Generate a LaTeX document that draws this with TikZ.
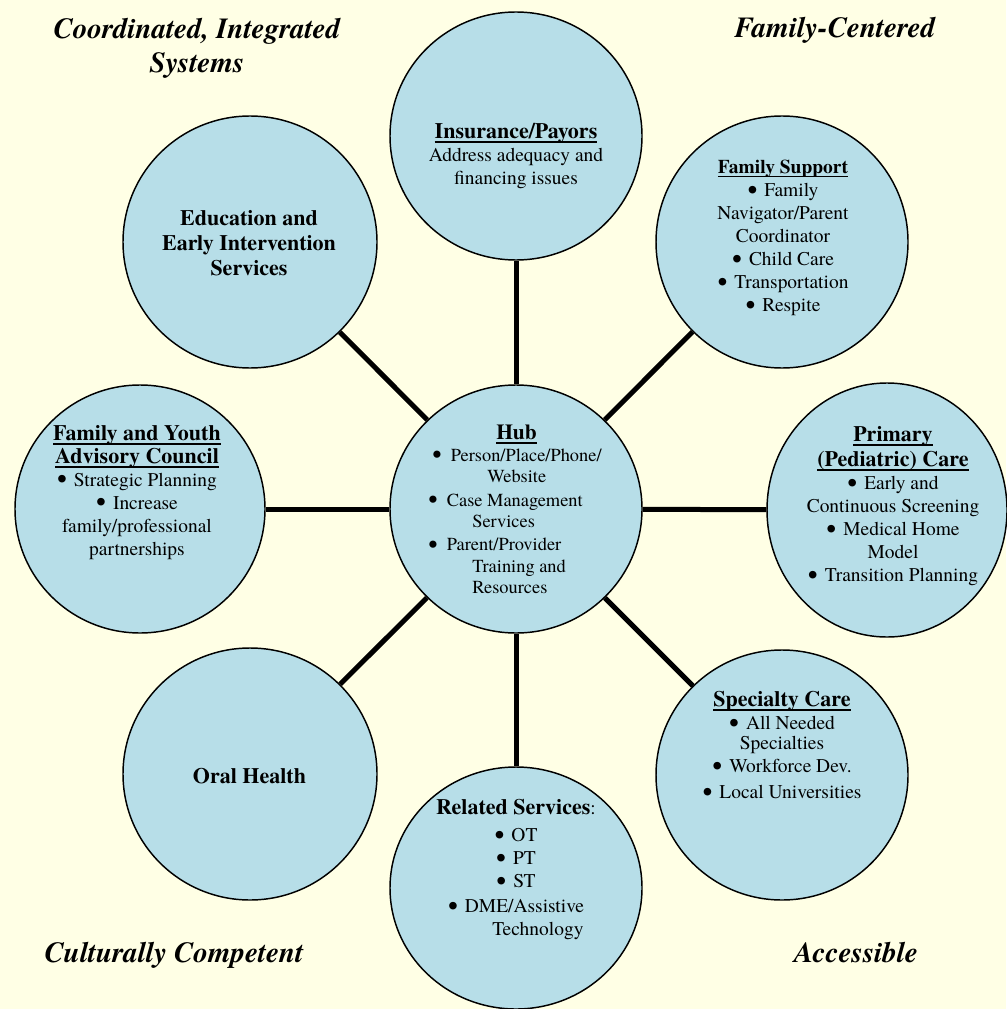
\documentclass[tikz,border=0pt]{standalone}
\usepackage{fontspec}
\usepackage{graphicx}
\setmainfont{texgyretermes}[Extension=.otf, UprightFont=*-regular, BoldFont=*-bold, ItalicFont=*-italic, BoldItalicFont=*-bolditalic]
\usetikzlibrary{shapes.geometric}
\definecolor{bgc}{RGB}{255,255,229}
\definecolor{cfill}{RGB}{183,222,232}
\newcommand\myul[1]{\setbox0\hbox{#1}\rlap{\rule[-0.19em]{\wd0}{0.08em}}\box0}
\newcommand\bigbul{\smash{\raisebox{-0.13em}{\scalebox{1.45}{\textbullet}}}}
\newcommand\bul{\bigbul\hspace{0.36em}}
\newcommand\hbul{\bigbul\hspace{0.5em}}
\newcommand\bodyf{\fontsize{14.6pt}{17.25pt}\selectfont}
\newcommand\headf{\fontsize{16.5pt}{18.75pt}\selectfont\bfseries}
\newcommand\hubf{\fontsize{13.8pt}{16pt}\selectfont}
\newcommand\cornerf{\fontsize{21.8pt}{25.5pt}\selectfont\bfseries\itshape}
\tikzset{
  bubble/.style={ellipse, draw=black, line width=1.1pt, fill=cfill, inner sep=0pt},
  txt/.style={align=center, inner sep=0pt, font=\bodyf},
  corner/.style={align=center, inner sep=0pt, font=\cornerf},
  spoke/.style={line width=3.75pt}
}
\begin{document}
\begin{tikzpicture}[x=0.75pt,y=-0.75pt]
\useasboundingbox (0,0) rectangle (1006,1009);
\fill[bgc] (0,0) rectangle (1006,1009);
% circles
\node[bubble, minimum width=189pt, minimum height=186pt] (hub) at (516,509) {};
\node[bubble, minimum width=189pt, minimum height=186pt] (ins) at (516,136) {};
\node[bubble, minimum width=189pt, minimum height=189pt] (fs) at (782,242) {};
\node[bubble, minimum width=180pt, minimum height=190.5pt] (pc) at (887,510) {};
\node[bubble, minimum width=189pt, minimum height=187.5pt] (sc) at (782,775) {};
\node[bubble, minimum width=189pt, minimum height=181.5pt] (rs) at (516,888) {};
\node[bubble, minimum width=190.5pt, minimum height=189pt] (oh) at (250,774) {};
\node[bubble, minimum width=187.5pt, minimum height=186pt] (fy) at (140,509) {};
\node[bubble, minimum width=190.5pt, minimum height=189pt] (ed) at (250,242) {};
% spokes
\draw[spoke] (hub) -- (ins);
\draw[spoke] (hub) -- (fs);
\draw[spoke] (hub) -- (pc);
\draw[spoke] (hub) -- (sc);
\draw[spoke] (hub) -- (rs);
\draw[spoke] (hub) -- (oh);
\draw[spoke] (hub) -- (fy);
\draw[spoke] (hub) -- (ed);
% texts
\node[txt, align=left, font=\hubf, anchor=west] (thub) at (428,509.5)
  {\hspace*{51pt}{\fontsize{16.1pt}{18pt}\selectfont\bfseries\myul{Hub}}\\
   \hspace*{3pt}\hbul Person/Place/Phone/\\
   \hspace*{44.25pt}Website\\[2pt]
   \hbul Case Management\\
   \hspace*{33pt}Services\\[1.3pt]
   \hbul Parent/Provider\\
   \hspace*{33pt}Training and\\
   \hspace*{33pt}Resources};
\node[txt] (tins) at (516,156.5)
  {{\headf\myul{Insurance/Payors}}\\Address adequacy and\\financing issues};
\node[txt] (tfs) at (783,238)
  {{\bfseries\myul{Family Support}}\\\bul Family\\Navigator/Parent\\Coordinator\\\bul Child Care\\\bul Transportation\\\bul Respite};
\node[txt] (tpc) at (893,506.5)
  {{\headf\myul{Primary}}\\[1.5pt]{\headf\myul{(Pediatric) Care}}\\\bul Early and\\Continuous Screening\\\bul Medical Home\\Model\\\bul Transition Planning};
\node[txt] (tfy) at (137,492.5)
  {{\headf\myul{Family and Youth}}\\{\headf\myul{Advisory Council}}\\\bul Strategic Planning\\\bul Increase\\family/professional\\partnerships};
\node[txt, font=\headf] (ted) at (249,243.5)
  {Education and\\Early Intervention\\Services};
\node[txt, font=\headf, anchor=base] (toh) at (249.5,783) {Oral Health};
\node[txt] (tsc) at (782,745.5)
  {{\headf\myul{Specialty Care}}\\\bul All Needed\\[-2.25pt]Specialties\\\bul Workforce Dev.\hspace*{28.5pt}\\[2.25pt]\bul Local Universities};
\node[txt] (trs) at (516,869.5)
  {{\headf Related Services}:\\[3pt]\bul OT\\\bul PT\\\bul ST\\[1.5pt]\bul DME/Assistive\\\hspace*{33pt}Technology};
% corner labels
\node[corner] (ctl) at (197,48) {Coordinated, Integrated\\Systems};
\node[corner, anchor=base] (ctr) at (835,38) {Family-Centered};
\node[corner, anchor=base] (cbl) at (174,962) {Culturally Competent};
\node[corner, anchor=base] (cbr) at (856,962) {Accessible};
\end{tikzpicture}
\end{document}
